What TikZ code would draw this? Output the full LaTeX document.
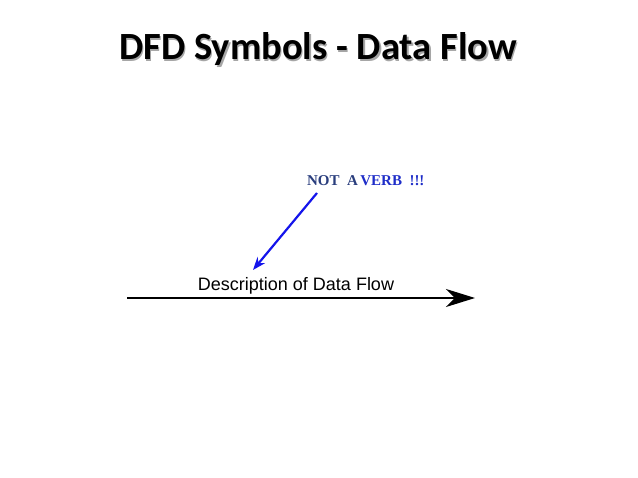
\documentclass[tikz,border=0pt]{standalone}
\usepackage{fontspec}
\setmainfont{Liberation Sans}
\newfontfamily\titlefont{Carlito}
\newfontfamily\notefont{Liberation Serif}
\usetikzlibrary{arrows.meta, positioning}

\definecolor{notedark}{RGB}{42,62,125}
\definecolor{noteblue}{RGB}{30,45,200}
\definecolor{pointer}{RGB}{20,20,235}

\begin{document}
\begin{tikzpicture}[
        >=Stealth,
        yscale=-1,
        x=1pt,
        y=1pt,
        every node/.style={inner sep=0pt, outer sep=0pt},
        title/.style={font=\titlefont\bfseries\fontsize{38.5}{39}\selectfont, anchor=base},
        flowlabel/.style={font=\fontsize{18}{19}\selectfont, anchor=base},
        note/.style={font=\notefont\bfseries\fontsize{15}{16}\selectfont, anchor=base west}
    ]
    \useasboundingbox (0,0) rectangle (638,478);

    \node[title, text=black!35] at (319.5,61.5) {DFD Symbols - Data Flow};
    \node[title] (title) at (318,60) {DFD Symbols - Data Flow};

    \coordinate (flowstart) at (127,298);
    \coordinate (flowend) at (475,298);
    \draw[-{Stealth[length=29pt, width=18pt, inset=9pt]}, line width=1.3pt]
        (flowstart) -- (flowend);
    \node[flowlabel] (label) at (296,291) {Description of Data Flow};

    \node[note] (note) at (307,186)
        {\textcolor{notedark}{NOT\ \ A}\,\textcolor{noteblue}{VERB\ \ !!!}};
    \coordinate (pointstart) at (317,193);
    \coordinate (pointend) at (253,270);
    \draw[->, pointer, line width=2.2pt] (pointstart) -- (pointend);
\end{tikzpicture}
\end{document}
